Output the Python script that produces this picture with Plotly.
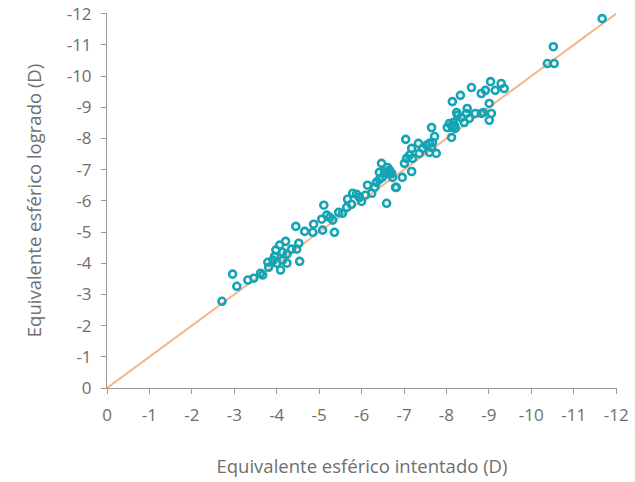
import plotly.graph_objects as go

intentado = [
    -2.71, -2.96, -3.06, -3.32, -3.46, -3.62, -3.67, -3.81, -3.79, -3.91,
    -3.95, -3.98, -4.07, -4.21, -4.09, -4.14, -4.24, -4.24, -4.35, -4.52,
    -4.54, -4.45, -4.66, -4.47, -4.14, -4.00,
    -4.87, -4.85, -5.06, -5.08, -5.18, -5.25, -5.36, -5.32, -5.46, -5.55,
    -5.65, -5.76, -5.67, -5.79, -5.88, -5.95, -6.00, -6.09, -6.14, -6.24,
    -6.31, -6.35, -6.42, -6.49, -6.59, -6.66, -6.73, -6.82, -6.59, -5.11,
    -7.65, -8.07, -8.12, -8.19, -8.26, -8.42, -8.47, -7.04, -7.34, -7.18,
    -7.13, -7.06, -7.01, -7.20, -7.36, -7.44, -7.53, -7.60, -7.67, -7.60,
    -7.72, -7.76, -7.65, -7.18, -6.96, -6.80, -6.47, -6.42, -6.54, -6.61,
    -6.66, -6.71,
    -8.14, -8.21, -8.16, -8.02, -8.24, -8.35, -8.49, -8.54, -8.68, -8.82,
    -8.87, -9.01, -9.06, -9.01, -8.14, -8.33, -8.59, -8.82, -8.92, -9.04,
    -9.15, -9.29, -9.36,
    -11.67, -10.52, -10.38, -10.54,
]
logrado = [
    -2.78, -3.65, -3.26, -3.46, -3.52, -3.68, -3.62, -3.87, -4.03, -4.10,
    -4.22, -4.42, -4.58, -4.70, -3.78, -4.10, -4.29, -4.00, -4.45, -4.64,
    -4.06, -5.18, -5.02, -4.45, -4.35, -4.00,
    -5.25, -4.99, -5.41, -5.06, -5.54, -5.47, -4.99, -5.38, -5.63, -5.60,
    -5.79, -5.89, -6.05, -6.24, -6.21, -6.11, -5.98, -6.18, -6.50, -6.24,
    -6.43, -6.59, -6.69, -6.75, -6.88, -6.91, -6.75, -6.43, -5.92, -5.86,
    -8.35, -8.48, -8.03, -8.42, -8.74, -8.51, -8.80, -7.97, -7.84, -7.68,
    -7.46, -7.36, -7.20, -7.36, -7.52, -7.68, -7.78, -7.84, -7.87, -7.55,
    -8.06, -7.52, -7.71, -6.94, -6.75, -6.43, -7.20, -6.91, -6.91, -7.07,
    -6.98, -6.88,
    -8.35, -8.32, -8.51, -8.35, -8.83, -8.67, -8.96, -8.64, -8.80, -8.80,
    -8.83, -9.12, -8.80, -8.58, -9.18, -9.38, -9.63, -9.44, -9.54, -9.82,
    -9.54, -9.76, -9.60,
    -11.84, -10.94, -10.40, -10.40,
]
linea_x = [0, -12]
linea_y = [0, -12]
ticks = list(range(0, -13, -1))
tick_labels = [str(t) for t in ticks]

FONT = "Open Sans"
GRAY = "#6e6e6e"

fig = go.Figure()
fig.add_trace(go.Scatter(
    x=linea_x, y=linea_y, mode="lines",
    line=dict(color="#f8b486", width=2), hoverinfo="skip", showlegend=False,
))
fig.add_trace(go.Scatter(
    x=intentado, y=logrado, mode="markers",
    marker=dict(symbol="circle-open", size=7, color="#14a4b4",
                line=dict(width=2.6, color="#14a4b4")),
    showlegend=False,
))

axis_common = dict(
    showgrid=False, zeroline=False, showline=True, linecolor="#9a9a9a",
    linewidth=1, ticks="outside", ticklen=5, tickcolor="#9a9a9a",
    tickfont=dict(family=FONT, size=17, color=GRAY),
    tickvals=ticks, ticktext=tick_labels, automargin=False,
    ticklabeloverflow="allow",
)

fig.update_layout(
    template="none",
    width=635, height=482,
    margin=dict(l=107, r=18, t=13, b=94),
    paper_bgcolor="white", plot_bgcolor="white",
    font=dict(family=FONT, color=GRAY, size=17),
    hovermode=False,
    xaxis=dict(range=[0, -12.02], **axis_common,
               title=dict(text="Equivalente esférico intentado (D)",
                          font=dict(family=FONT, size=18.5, color=GRAY), standoff=34)),
    yaxis=dict(range=[0, -12.02], **axis_common,
               title=dict(text="Equivalente esférico logrado (D)",
                          font=dict(family=FONT, size=18.5, color=GRAY), standoff=20)),
)
fig.update_xaxes(ticklabelstandoff=7)
fig.update_yaxes(ticklabelstandoff=6)
fig.write_html(
    "out.html",
    config={"displayModeBar": False, "staticPlot": True},
    post_script="document.body.style.margin='0';document.body.style.padding='0';",
)
